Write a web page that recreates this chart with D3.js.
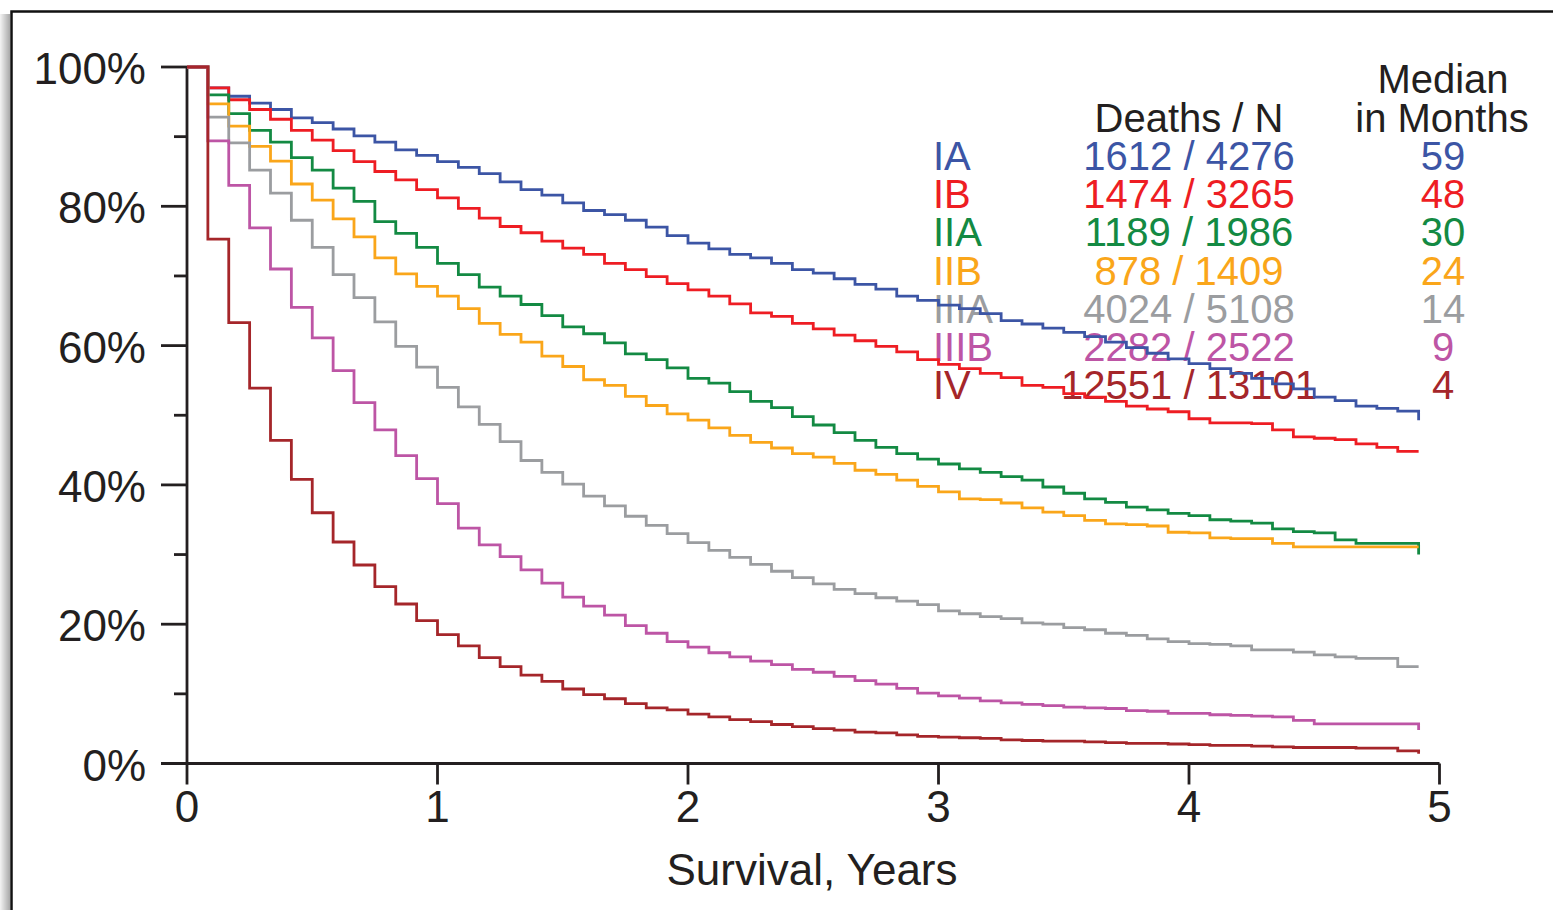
<!DOCTYPE html>
<html>
<head>
<meta charset="utf-8">
<script src="https://cdn.jsdelivr.net/npm/d3@7"></script>
<style>
  body { margin: 0; background: #fff; }
  svg { display: block; font-family: "Liberation Sans", Arial, Helvetica, sans-serif; }
</style>
</head>
<body>
<svg id="chart"></svg>
<script>
// ---------------- data (survival %, one value per month, months 0..59) ----------------
const stages = ['IA', 'IB', 'IIA', 'IIB', 'IIIA', 'IIIB', 'IV'];
const deathsN = ['1612 / 4276', '1474 / 3265', '1189 / 1986', '878 / 1409', '4024 / 5108', '2282 / 2522', '12551 / 13101'];
const medianMonths = ['59', '48', '30', '24', '14', '9', '4'];
const stageColors = ['#3c55a5', '#ee1d23', '#138a43', '#faa61a', '#9b9da0', '#bd55a5', '#a5262a'];

const survIA = [100, 97.0, 95.8, 94.8, 93.9, 92.7, 92.0, 91.1, 90.1, 89.2, 88.1, 87.3, 86.4, 85.6, 84.7,
  83.5, 82.4, 81.6, 80.5, 79.4, 78.8, 78.0, 77.0, 75.8, 74.7, 73.9, 73.1, 72.6, 71.8, 70.9,
  70.4, 69.6, 68.8, 68.1, 67.1, 66.5, 65.8, 65.3, 64.6, 63.6, 63.1, 62.5, 61.9, 61.3, 60.5,
  59.7, 58.9, 58.1, 57.4, 56.7, 56.0, 55.3, 54.5, 53.8, 52.6, 52.1, 51.3, 51.0, 50.6, 49.3];
const survIB = [100, 97.0, 95.3, 93.9, 92.5, 90.9, 89.5, 88.0, 86.4, 85.0, 83.8, 82.4, 81.2, 79.7, 78.3,
  77.1, 76.2, 75.0, 74.0, 73.1, 71.8, 70.9, 69.9, 68.9, 68.0, 67.1, 66.0, 64.7, 64.2, 63.2,
  62.4, 61.5, 60.7, 59.9, 59.1, 58.0, 57.3, 56.7, 56.0, 55.4, 54.3, 54.0, 53.1, 52.6, 52.0,
  51.3, 50.9, 50.5, 49.5, 48.9, 48.9, 48.8, 47.9, 46.9, 46.7, 46.5, 45.9, 45.4, 44.8, 44.8];
const survIIA = [100, 96.0, 93.3, 90.9, 89.2, 87.0, 85.2, 82.6, 80.7, 77.8, 76.1, 74.1, 71.8, 70.2, 68.4,
  67.1, 65.9, 64.3, 62.7, 61.7, 60.4, 58.8, 58.0, 56.8, 55.3, 54.6, 53.4, 52.0, 51.1, 49.8,
  48.6, 47.5, 46.4, 45.4, 44.5, 43.7, 43.0, 42.3, 41.8, 41.2, 40.7, 39.7, 38.8, 38.0, 37.5,
  36.8, 36.4, 35.9, 35.6, 35.0, 34.8, 34.5, 33.7, 33.3, 33.1, 32.1, 31.6, 31.6, 31.6, 30.0];
const survIIB = [100, 94.7, 91.5, 88.6, 86.5, 83.2, 80.9, 78.2, 75.6, 72.6, 70.3, 68.5, 67.1, 65.3, 63.2,
  61.6, 60.5, 58.5, 57.0, 55.1, 54.3, 52.7, 51.4, 50.2, 49.3, 48.2, 47.1, 46.1, 45.3, 44.5,
  44.0, 43.1, 42.1, 41.5, 40.7, 39.8, 39.0, 38.0, 37.9, 37.4, 36.7, 36.1, 35.6, 34.9, 34.4,
  34.3, 34.1, 33.2, 33.1, 32.4, 32.3, 32.3, 31.6, 31.1, 31.1, 31.1, 31.1, 31.1, 31.1, 31.1];
const survIIIA = [100, 92.8, 89.1, 85.2, 81.9, 78.0, 74.1, 70.2, 66.9, 63.4, 59.9, 56.9, 54.0, 51.2, 48.7,
  46.2, 43.5, 41.8, 40.1, 38.4, 37.0, 35.5, 34.2, 33.0, 31.7, 30.6, 29.6, 28.6, 27.6, 26.7,
  25.8, 25.0, 24.4, 23.8, 23.3, 22.8, 21.9, 21.5, 21.1, 20.8, 20.2, 20.0, 19.5, 19.2, 18.7,
  18.4, 17.9, 17.5, 17.2, 17.1, 16.9, 16.3, 16.3, 16.0, 15.6, 15.3, 15.1, 15.1, 13.9, 13.9];
const survIIIB = [100, 89.4, 83.0, 76.9, 71.0, 65.5, 61.1, 56.4, 51.8, 47.9, 44.2, 40.9, 37.3, 33.8, 31.4,
  29.7, 27.8, 25.9, 23.9, 22.6, 21.3, 19.8, 18.7, 17.5, 16.7, 15.9, 15.3, 14.7, 14.2, 13.5,
  13.1, 12.5, 11.9, 11.4, 10.8, 10.1, 9.7, 9.4, 9.0, 8.7, 8.5, 8.3, 8.1, 8.0, 7.9,
  7.6, 7.5, 7.2, 7.2, 7.0, 6.9, 6.8, 6.7, 6.2, 5.7, 5.7, 5.7, 5.7, 5.7, 4.8];
const survIV = [100, 75.3, 63.3, 53.9, 46.4, 40.8, 36.0, 31.8, 28.5, 25.4, 22.9, 20.5, 18.5, 16.9, 15.2,
  13.9, 12.7, 11.8, 10.7, 9.9, 9.3, 8.6, 8.0, 7.7, 7.1, 6.7, 6.3, 6.0, 5.6, 5.3,
  5.0, 4.8, 4.5, 4.4, 4.1, 3.9, 3.8, 3.7, 3.6, 3.4, 3.3, 3.2, 3.2, 3.1, 3.0,
  2.9, 2.9, 2.8, 2.7, 2.6, 2.6, 2.5, 2.4, 2.3, 2.3, 2.3, 2.2, 2.2, 1.8, 1.4];

const survival = [survIA, survIB, survIIA, survIIB, survIIIA, survIIIB, survIV];

const xTicks = [0, 1, 2, 3, 4, 5];
const yTicks = [0, 20, 40, 60, 80, 100];
const yMinorTicks = [10, 30, 50, 70, 90];

// ---------------- layout ----------------
const width = 1553;
const height = 910;
const ink = '#231f20';

const svg = d3.select('#chart')
    .attr('width', width)
    .attr('height', height);

//-------frame with soft shadow on the left
const defs = svg.append('defs');
const grad = defs.append('linearGradient')
    .attr('id', 'shadow')
    .attr('x1', 0).attr('x2', 1).attr('y1', 0).attr('y2', 0);
grad.append('stop').attr('offset', '0%').attr('stop-color', '#f4f4f4');
grad.append('stop').attr('offset', '100%').attr('stop-color', '#a9a9a9');

svg.append('rect')
    .attr('x', 0).attr('y', 14)
    .attr('width', 10).attr('height', height - 14)
    .attr('fill', 'url(#shadow)');
svg.append('path')
    .attr('d', `M11.5,${height} V11.5 H${width}`)
    .attr('fill', 'none')
    .attr('stroke', '#111')
    .attr('stroke-width', 2.5);

//-------scales
const x = d3.scaleLinear().domain([0, 5]).range([187, 1439.5]);
const y = d3.scaleLinear().domain([0, 100]).range([763.5, 67]);

//-------legend text (drawn under the curves)
const legend = svg.append('g').attr('font-size', 40);
legend.append('text')
    .attr('x', 1189).attr('y', 132)
    .attr('text-anchor', 'middle')
    .attr('fill', ink)
    .text('Deaths / N');
legend.append('text')
    .attr('x', 1443).attr('y', 93)
    .attr('text-anchor', 'middle')
    .attr('fill', ink)
    .text('Median');
legend.append('text')
    .attr('x', 1442).attr('y', 132)
    .attr('text-anchor', 'middle')
    .attr('fill', ink)
    .text('in Months');

const rows = legend.selectAll('.row')
    .data(stages)
    .join('g')
      .attr('class', 'row')
      .attr('fill', (d, i) => stageColors[i])
      .attr('transform', (d, i) => `translate(0,${170 + i * 38.2})`);
rows.append('text')
    .attr('x', 933)
    .text(d => d);
rows.append('text')
    .attr('x', 1189)
    .attr('text-anchor', 'middle')
    .text((d, i) => deathsN[i]);
rows.append('text')
    .attr('x', 1443)
    .attr('text-anchor', 'middle')
    .text((d, i) => medianMonths[i]);

//-------axes
const axes = svg.append('g')
    .attr('stroke', ink)
    .attr('stroke-width', 2.8)
    .attr('fill', 'none');

axes.append('line')
    .attr('x1', x(0)).attr('x2', x(0))
    .attr('y1', y(100)).attr('y2', y(0));
axes.append('line')
    .attr('x1', 161).attr('x2', x(5))
    .attr('y1', y(0)).attr('y2', y(0));

axes.selectAll('.ymajor')
    .data(yTicks)
    .join('line')
      .attr('class', 'ymajor')
      .attr('x1', 161).attr('x2', x(0))
      .attr('y1', d => y(d)).attr('y2', d => y(d));
axes.selectAll('.yminor')
    .data(yMinorTicks)
    .join('line')
      .attr('class', 'yminor')
      .attr('x1', 174).attr('x2', x(0))
      .attr('y1', d => y(d)).attr('y2', d => y(d));
axes.selectAll('.xtick')
    .data(xTicks)
    .join('line')
      .attr('class', 'xtick')
      .attr('x1', d => x(d)).attr('x2', d => x(d))
      .attr('y1', y(0)).attr('y2', y(0) + 21);

const labels = svg.append('g')
    .attr('fill', ink)
    .attr('font-size', 44);

labels.selectAll('.ylabel')
    .data(yTicks)
    .join('text')
      .attr('class', 'ylabel')
      .attr('x', 146)
      .attr('y', d => y(d) + 17)
      .attr('text-anchor', 'end')
      .text(d => d + '%');

labels.selectAll('.xlabel')
    .data(xTicks)
    .join('text')
      .attr('class', 'xlabel')
      .attr('x', d => x(d))
      .attr('y', 822)
      .attr('text-anchor', 'middle')
      .text(d => d);

labels.append('text')
    .attr('x', 812)
    .attr('y', 885)
    .attr('text-anchor', 'middle')
    .text('Survival, Years');

//-------Kaplan-Meier step curves
const line = d3.line()
    .curve(d3.curveStepAfter)
    .x((d, i) => x(i / 12))
    .y(d => y(d));

svg.append('g')
    .selectAll('path')
    .data(survival)
    .join('path')
      .attr('d', line)
      .attr('fill', 'none')
      .attr('stroke', (d, i) => stageColors[i])
      .attr('stroke-width', 2.8);
</script>
</body>
</html>
